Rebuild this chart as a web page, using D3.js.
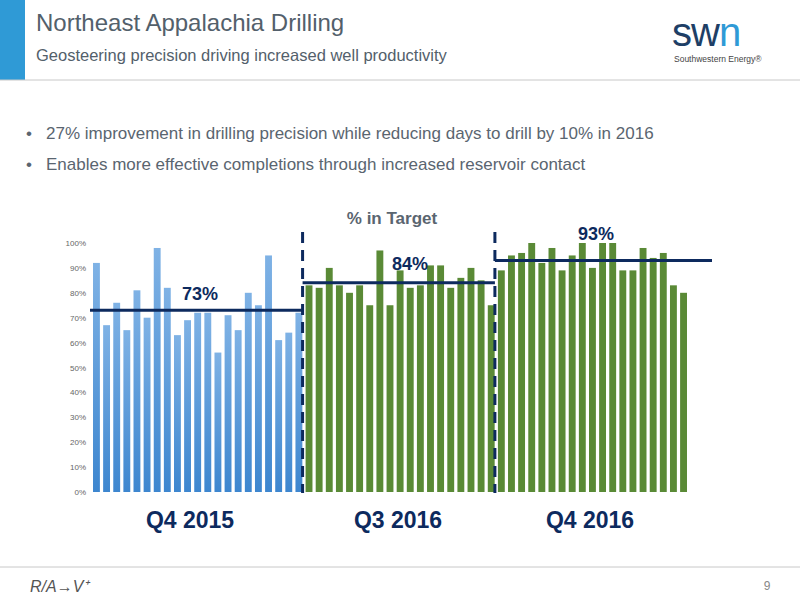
<!DOCTYPE html>
<html><head><meta charset="utf-8">
<script src="https://cdn.jsdelivr.net/npm/d3@7"></script>
<style>body{margin:0;background:#fff;font-family:"Liberation Sans",Arial,sans-serif}</style>
</head><body>
<svg id="chart" width="800" height="600"></svg>
<script>
// data
var q42015 = [92,67,76,65,81,70,98,82,63,69,72,72,56,71,65,80,75,95,61,64,72];
var q32016 = [83,82,90,83,80,83,75,97,75,89,82,83,91,91,82,86,90,85,75];
var q42016 = [89,95,96,100,92,98,89,95,100,90,100,100,89,89,98,94,96,83,80];
var groups = ["Q4 2015","Q3 2016","Q4 2016"];
var averages = [73,84,93];
var yTicks = [0,10,20,30,40,50,60,70,80,90,100];

var svg = d3.select("#chart");

// header
svg.append("rect").attr("x",0).attr("y",0).attr("width",25).attr("height",80).attr("fill","#2f9ad6");
svg.append("text").attr("x",36).attr("y",31).attr("font-size",24).attr("fill","#53606b").text("Northeast Appalachia Drilling");
svg.append("text").attr("x",36).attr("y",61).attr("font-size",16.5).attr("fill","#53606b").text("Geosteering precision driving increased well productivity");
svg.append("line").attr("x1",0).attr("x2",800).attr("y1",80).attr("y2",80).attr("stroke","#c8c8c8");
svg.append("text").attr("x",672).attr("y",46).attr("font-size",40).attr("fill","#1e3f66").attr("letter-spacing",-1).text("sw")
  .append("tspan").attr("fill","#2f9ad6").text("n");
svg.append("text").attr("x",674).attr("y",62).attr("font-size",8.5).attr("fill","#444").text("Southwestern Energy\u00ae");

// bullets
var bullets = ["27% improvement in drilling precision while reducing days to drill by 10% in 2016",
               "Enables more effective completions through increased reservoir contact"];
bullets.forEach(function(b,i){
  svg.append("text").attr("x",26).attr("y",139+i*31).attr("font-size",17).attr("fill","#5a6570").text("\u2022");
  svg.append("text").attr("x",46).attr("y",139+i*31).attr("font-size",17).attr("fill","#5a6570").text(b);
});

// chart
var all = [];
[q42015,q32016,q42016].forEach(function(arr,g){ arr.forEach(function(v){ all.push({g:g,v:v}); }); });
var x = d3.scaleBand().domain(d3.range(all.length)).range([92,688]).paddingInner(0.32).paddingOuter(0.1);
var y = d3.scaleLinear().domain([0,100]).range([492,243]);
var colors = ["#5b9bd5","#5a8a36","#5a8a36"];

svg.append("g").selectAll("text").data(yTicks).join("text")
  .attr("x",86).attr("y",function(d){return y(d)+3;}).attr("text-anchor","end")
  .attr("font-size",8).attr("fill","#666").text(function(d){return d+"%";});

var grad = svg.append("defs").append("linearGradient").attr("id","blu").attr("x1",0).attr("x2",0).attr("y1",0).attr("y2",1);
grad.append("stop").attr("offset","0").attr("stop-color","#7fb2e5");
grad.append("stop").attr("offset","1").attr("stop-color","#3d86cf");

svg.append("g").selectAll("rect").data(all).join("rect")
  .attr("x",function(d,i){return x(i);}).attr("width",x.bandwidth())
  .attr("y",function(d){return y(d.v);}).attr("height",function(d){return y(0)-y(d.v);})
  .attr("fill",function(d){return d.g===0?"url(#blu)":colors[d.g];});

// group boundaries
var starts = [0,q42015.length,q42015.length+q32016.length];
var bx = function(k){ return k===0?90:(k===3?712:x(starts[k])-3); };
[1,2].forEach(function(k){
  svg.append("line").attr("x1",bx(k)).attr("x2",bx(k)).attr("y1",232).attr("y2",493)
    .attr("stroke","#0d2a5e").attr("stroke-width",3).attr("stroke-dasharray","11,7");
});
averages.forEach(function(a,g){
  svg.append("line").attr("x1",bx(g)).attr("x2",bx(g+1)).attr("y1",y(a)).attr("y2",y(a))
    .attr("stroke","#0d2a5e").attr("stroke-width",3);
});
var labelPos = [[200,300],[410,270],[596,240]];
averages.forEach(function(a,g){
  svg.append("text").attr("x",labelPos[g][0]).attr("y",labelPos[g][1]).attr("text-anchor","middle")
    .attr("font-size",18).attr("font-weight","bold").attr("fill","#0d2a5e").text(a+"%");
});
svg.append("text").attr("x",392).attr("y",224).attr("text-anchor","middle").attr("font-size",17)
  .attr("font-weight","bold").attr("fill","#5a6570").text("% in Target");

var groupX = [190,398,590];
groups.forEach(function(t,g){
  svg.append("text").attr("x",groupX[g]).attr("y",528).attr("text-anchor","middle").attr("font-size",23)
    .attr("font-weight","bold").attr("fill","#0d2a5e").text(t);
});

// footer
svg.append("line").attr("x1",0).attr("x2",800).attr("y1",567).attr("y2",567).attr("stroke","#c8c8c8");
svg.append("text").attr("x",30).attr("y",592).attr("font-size",16).attr("font-style","italic").attr("fill","#555").text("R/A\u2192V\u207a");
svg.append("text").attr("x",767).attr("y",590).attr("font-size",12).attr("fill","#888").attr("text-anchor","middle").text("9");
</script>
</body></html>
